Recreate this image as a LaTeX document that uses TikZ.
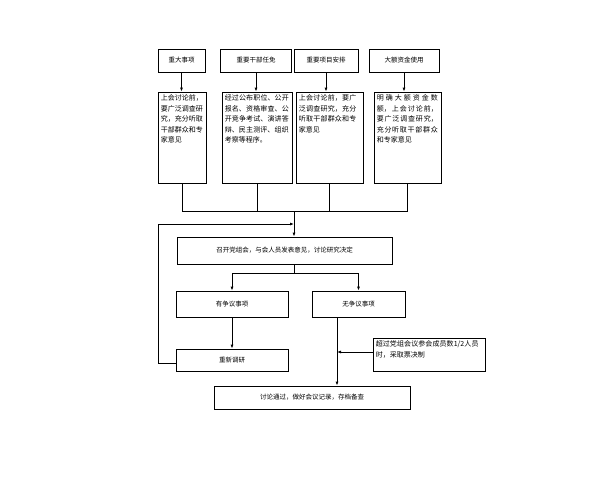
\documentclass[tikz,border=0pt]{standalone}
\usepackage{fontspec}
\newfontfamily\cjk{Noto Sans CJK SC}
\XeTeXlinebreaklocale "zh"
\XeTeXlinebreakskip=0pt plus 1pt
\usetikzlibrary{arrows.meta}
\tikzset{
  box/.style={draw,thick,inner sep=0pt,font=\cjk\fontsize{6.5}{8}\selectfont},
  txt/.style={anchor=north west,inner sep=3pt,align=justify,font=\cjk\fontsize{7}{10.5}\selectfont},
  arr/.style={-{Latex[length=4pt,width=3pt]},thick},
  ln/.style={thick}
}
\begin{document}
\begin{tikzpicture}[x=1pt,y=-1pt]
\useasboundingbox (0,0) rectangle (600,480);
% top row
\node[box,minimum width=47,minimum height=23] (t1) at (181.5,60.5) {重大事项};
\node[box,minimum width=71,minimum height=23] (t2) at (256,60.5) {重要干部任免};
\node[box,minimum width=64,minimum height=23] (t3) at (326,60.5) {重要项目安排};
\node[box,minimum width=70,minimum height=23] (t4) at (404,60.5) {大额资金使用};
% second row
\node[box,minimum width=48,minimum height=91] (d1) at (182,137.5) {};
\node[box,minimum width=70,minimum height=91] (d2) at (257,137.5) {};
\node[box,minimum width=67,minimum height=91] (d3) at (329.5,137.5) {};
\node[box,minimum width=67,minimum height=91] (d4) at (407.5,137.5) {};
\node[txt,text width=42] at (d1.north west) {上会讨论前，要广泛调查研究，充分听取干部群众和专家意见};
\node[txt,text width=64] at (d2.north west) {经过公布职位、公开报名、资格审查、公开竞争考试、演讲答辩、民主测评、组织考察等程序。};
\node[txt,text width=61,align=left] at (d3.north west) {上会讨论前，要广泛调查研究，充分听取干部群众和专家意见};
\node[txt,text width=61] at (d4.north west) {明确大额资金数额，上会讨论前，要广泛调查研究，充分听取干部群众和专家意见};
\foreach \i in {1,...,4} \draw[arr] (t\i.south) -- (t\i.south |- d\i.north);
% middle
\node[box,minimum width=215,minimum height=27] (meet) at (284.5,250.5) {召开党组会，与会人员发表意见，讨论研究决定};
\coordinate (join) at (294,211);
\foreach \i in {1,...,4} \draw[ln] (d\i.south) -- (d\i.south |- join);
\draw[ln] (d1.south |- join) -- (d4.south |- join);
\draw[arr] (join) -- (join |- meet.north);
\node[box,minimum width=112,minimum height=26] (yes) at (232,304) {有争议事项};
\node[box,minimum width=93,minimum height=26] (no) at (358.5,304) {无争议事项};
\coordinate (split) at (294,273);
\draw[ln] (meet.south -| split) -- (split);
\draw[arr] (split) -| (yes.north);
\draw[arr] (split) -| (no.north);
\node[box,minimum width=112,minimum height=22] (redo) at (232,360) {重新调研};
\draw[arr] (yes) -- (redo);
\coordinate (back) at (158,224);
\draw[arr] (redo.west |- 0,363) -- (back |- 0,363) -- (back) -- (join |- back);
\node[box,minimum width=112,minimum height=33] (vote) at (429,354.5) {};
\node[txt,text width=104,align=left] at (vote.north west) {超过党组会议参会成员数1/2人员时，采取票决制};
\node[box,minimum width=196,minimum height=23] (end) at (312,397.5) {讨论通过，做好会议记录，存档备查};
\coordinate (nv) at (337,352);
\draw[ln] (no.south -| nv) -- (nv);
\draw[arr] (nv) -- (nv |- end.north);
\draw[arr] (vote.west |- nv) -- (nv);
\end{tikzpicture}
\end{document}
